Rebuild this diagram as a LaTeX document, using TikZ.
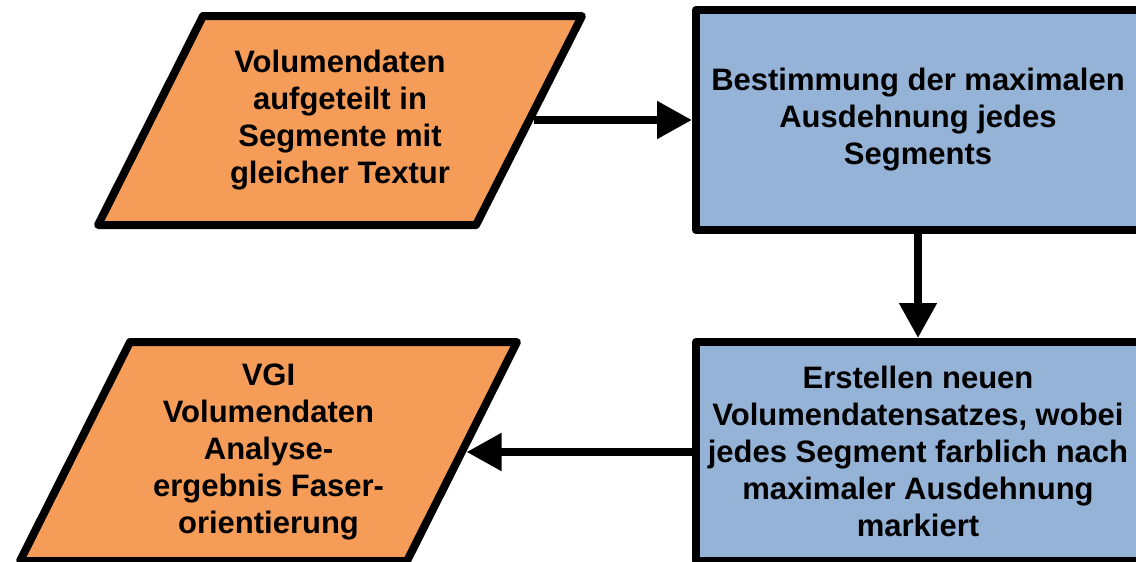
\documentclass[tikz,border=0pt]{standalone}
\usepackage{fontspec}
\setmainfont{Liberation Sans}
\usetikzlibrary{arrows.meta}
\definecolor{dataorange}{HTML}{F59D58}
\definecolor{procblue}{HTML}{95B3D7}
\begin{document}
\begin{tikzpicture}[x=1pt,y=-1pt,
  outline/.style={draw=black, line width=8pt, line join=round},
  label/.style={align=center, font=\fontsize{31}{37}\selectfont\bfseries, inner sep=0pt},
  datashape/.style={outline, fill=dataorange},
  process/.style={outline, label, fill=procblue, rectangle, minimum width=444pt,
    minimum height=220pt},
  flow/.style={line width=8pt, -{Triangle[length=35pt,width=36pt]}}]
\useasboundingbox (0,0) rectangle (1136,562);
\clip (0,0) rectangle (1136,562);

% input data (parallelogram)
\draw[datashape] (98,225) -- (203,16) -- (582,16) -- (476,225) -- cycle;
\node[label] (input) at (340,120.5)
  {Volumendaten\\aufgeteilt in\\Segmente mit\\gleicher Textur};
\coordinate (input-out) at (534,120);

% result data (parallelogram)
\draw[datashape] (20,561) -- (130,342) -- (517,342) -- (407,561) -- cycle;
\node[label] (result) at (268.5,451.5)
  {VGI\\Volumendaten\\Analyse-\\ergebnis Faser-\\orientierung};
\coordinate (result-in) at (466.5,452);

% processing steps
\node[process, minimum height=220.5pt] (extent) at (918,120)
  {Bestimmung der maximalen\\Ausdehnung jedes\\Segments};
\node[process, minimum height=219pt] (recolour) at (918,451.5)
  {Erstellen neuen\\Volumendatensatzes, wobei\\jedes Segment farblich nach\\maximaler Ausdehnung\\markiert};

% flow
\draw[flow] (input-out) -- (input-out -| extent.west);
\draw[flow] (extent.south) -- (recolour.north);
\draw[flow] (recolour.west |- result-in) -- (result-in);
\end{tikzpicture}
\end{document}
